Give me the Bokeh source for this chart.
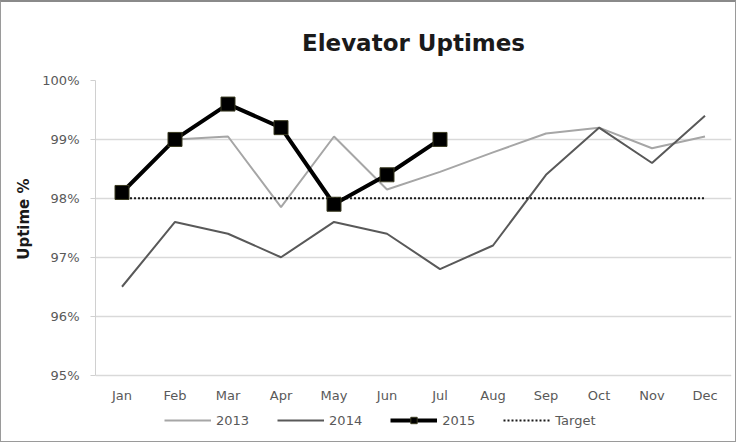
from bokeh.plotting import figure
from bokeh.models import Range1d, FactorRange, Legend, LegendItem, PrintfTickFormatter, FixedTicker, Title
from bokeh.core.properties import value
from bokeh.embed import file_html
from bokeh.resources import INLINE

months = ["Jan", "Feb", "Mar", "Apr", "May", "Jun", "Jul", "Aug", "Sep", "Oct", "Nov", "Dec"]
uptime_2013 = [98.1, 99.0, 99.05, 97.85, 99.05, 98.15, 98.45, 98.78, 99.1, 99.2, 98.85, 99.05]
uptime_2014 = [96.5, 97.6, 97.4, 97.0, 97.6, 97.4, 96.8, 97.2, 98.4, 99.2, 98.6, 99.4]
months_2015 = ["Jan", "Feb", "Mar", "Apr", "May", "Jun", "Jul"]
uptime_2015 = [98.1, 99.0, 99.6, 99.2, 97.9, 98.4, 99.0]
target = [98, 98, 98, 98, 98, 98, 98, 98, 98, 98, 98, 98]
y_ticks = [95, 96, 97, 98, 99, 100]

FONT = "DejaVu Sans"

# layout (pixels): value axis spans 293 px; frame extends 64 px below it for labels + legend
AXIS_PX = 293
EXTRA_PX = 64
px_per_unit = AXIS_PX / (y_ticks[-1] - y_ticks[0])
y_start = y_ticks[0] - EXTRA_PX / px_per_unit

p = figure(width=736, height=442, x_range=FactorRange(*months, range_padding=0),
           y_range=Range1d(y_start, y_ticks[-1]), output_backend="svg", toolbar_location=None,
           min_border_left=94, min_border_right=6, min_border_top=77, min_border_bottom=5,
           title="Elevator Uptimes")
p.outline_line_color = None
p.background_fill_color = "white"
p.border_fill_color = "white"
p.styles = {"border": "1px solid #9a9a9a", "border-top": "2px solid #8a8a8a", "box-sizing": "border-box"}

p.title.align = "center"
p.title.text_font = FONT
p.title.text_font_size = "23px"
p.title.text_font_style = "bold"
p.title.text_color = "#1a1a1a"
p.title.standoff = 50

p.xgrid.grid_line_color = None
p.ygrid.grid_line_color = "#d9d9d9"
p.ygrid.grid_line_width = 1.5
p.ygrid.ticker = FixedTicker(ticks=y_ticks)

p.xaxis.visible = False

p.yaxis.ticker = FixedTicker(ticks=y_ticks)
p.yaxis.bounds = (y_ticks[0], y_ticks[-1])
p.yaxis.formatter = PrintfTickFormatter(format="%d%%")
p.yaxis.axis_line_color = "#d0d0d0"
p.yaxis.major_tick_line_color = "#d0d0d0"
p.yaxis.major_tick_in = 0
p.yaxis.major_tick_out = 5
p.yaxis.minor_tick_line_color = None
p.yaxis.major_label_standoff = 11
p.yaxis.major_label_text_font = FONT
p.yaxis.major_label_text_font_size = "13px"
p.yaxis.major_label_text_color = "#595959"

ytitle = Title(text="Uptime %", align="right", offset=98, standoff=14,
               text_font=FONT, text_font_size="15px", text_font_style="bold",
               text_color="#1a1a1a")
p.add_layout(ytitle, "left")

# category labels under the value axis base
p.text(x=months, y=[y_ticks[0]] * len(months), text=months, y_offset=20,
       text_align="center", text_baseline="middle", text_font=value(FONT),
       text_font_size="13px", text_color="#595959")

r13 = p.line(months, uptime_2013, line_color="#a6a6a6", line_width=2)
r14 = p.line(months, uptime_2014, line_color="#595959", line_width=2)
rt = p.line(months, target, line_color="#1a1a1a", line_width=2, line_dash="2 2")
r15 = p.line(months_2015, uptime_2015, line_color="black", line_width=4)
r15m = p.scatter(months_2015, uptime_2015, marker="square", size=14, fill_color="black", line_color="#3a3a20")

legend = Legend(items=[
    LegendItem(label="2013", renderers=[r13]),
    LegendItem(label="2014", renderers=[r14]),
    LegendItem(label="2015", renderers=[r15, r15m]),
    LegendItem(label="Target", renderers=[rt]),
], orientation="horizontal", location=(69, 11), glyph_width=47, glyph_height=16,
   label_standoff=5, spacing=28, padding=0, margin=0, border_line_color=None,
   background_fill_alpha=0, label_text_font=FONT, label_text_font_size="13px",
   label_text_color="#595959", label_height=16)
p.add_layout(legend, "center")

open("out.html", "w").write(file_html(p, INLINE))
